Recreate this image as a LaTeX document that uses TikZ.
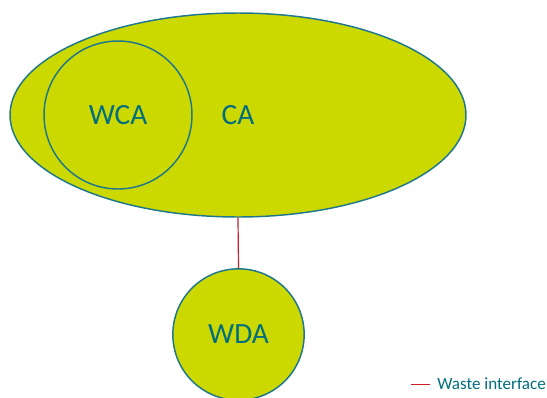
\documentclass[tikz,border=0pt]{standalone}
\usepackage{fontspec}
\setmainfont{Carlito}
\usetikzlibrary{shapes.geometric}
\definecolor{areafill}{RGB}{204,217,0}
\definecolor{arealine}{RGB}{30,120,140}
\definecolor{areatext}{RGB}{0,110,125}
\definecolor{wasteline}{RGB}{200,30,40}
\tikzset{
  area/.style={draw=arealine, line width=1.1pt, fill=areafill, text=areatext, font=\fontsize{22}{26}\selectfont, inner sep=0pt},
  iface/.style={draw=wasteline, line width=0.9pt},
}
\begin{document}
\begin{tikzpicture}[x=0.75pt,y=-0.75pt]
\useasboundingbox (0,0) rectangle (547,397);
\node[area, ellipse, minimum width=342pt, minimum height=153pt] (CA) at (238,115) {\raisebox{-1.5pt}{CA}};
\node[area, circle, minimum size=111pt] (WCA) at (118,115) {\raisebox{-1.5pt}{WCA}};
\node[area, circle, minimum size=98.5pt] (WDA) at (238.5,334.5) {WDA};
\draw[iface] (CA.south) -- (WDA.north);
\coordinate (l1) at (411,384.5);
\coordinate (l2) at (430,384.5);
\draw[iface] (l1) -- (l2);
\node[anchor=west, text=areatext, font=\fontsize{12.8}{15}\selectfont, inner sep=0pt] (legend) at (437,384) {Waste interface};
\end{tikzpicture}
\end{document}
